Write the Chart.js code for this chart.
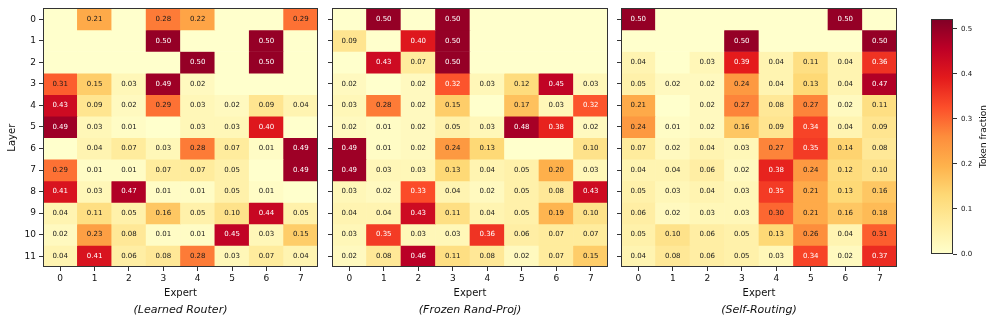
<!DOCTYPE html>
<html>
<head>
<meta charset="utf-8">
<script src="https://cdn.jsdelivr.net/npm/chart.js@4.4.1/dist/chart.umd.min.js"></script>
<style>
body{margin:0;background:#fff;}
#wrap{position:relative;width:997px;height:325px;overflow:hidden;}
canvas{position:absolute;top:0;}
</style>
</head>
<body>
<div id="wrap">
<canvas id="p1"></canvas>
<canvas id="p2"></canvas>
<canvas id="p3"></canvas>
<canvas id="cb"></canvas>
</div>
<script>
// data (0 = empty cell, no annotation)
const experts = ['0','1','2','3','4','5','6','7'];
const layers = [0,1,2,3,4,5,6,7,8,9,10,11];

const learnedRouter = [
  [0,.21,0,.28,.22,0,0,.29],
  [0,0,0,.50,0,0,.50,0],
  [0,0,0,0,.50,0,.50,0],
  [.31,.15,.03,.49,.02,0,0,0],
  [.43,.09,.02,.29,.03,.02,.09,.04],
  [.49,.03,.01,0,.03,.03,.40,0],
  [0,.04,.07,.03,.28,.07,.01,.49],
  [.29,.01,.01,.07,.07,.05,0,.49],
  [.41,.03,.47,.01,.01,.05,.01,0],
  [.04,.11,.05,.16,.05,.10,.44,.05],
  [.02,.23,.08,.01,.01,.45,.03,.15],
  [.04,.41,.06,.08,.28,.03,.07,.04]
];
const frozenRandProj = [
  [0,.50,0,.50,0,0,0,0],
  [.09,0,.40,.50,0,0,0,0],
  [0,.43,.07,.50,0,0,0,0],
  [.02,0,.02,.32,.03,.12,.45,.03],
  [.03,.28,.02,.15,0,.17,.03,.32],
  [.02,.01,.02,.05,.03,.48,.38,.02],
  [.49,.01,.02,.24,.13,0,0,.10],
  [.49,.03,.03,.13,.04,.05,.20,.03],
  [.03,.02,.33,.04,.02,.05,.08,.43],
  [.04,.04,.43,.11,.04,.05,.19,.10],
  [.03,.35,.03,.03,.36,.06,.07,.07],
  [.02,.08,.46,.11,.08,.02,.07,.15]
];
const selfRouting = [
  [.50,0,0,0,0,0,.50,0],
  [0,0,0,.50,0,0,0,.50],
  [.04,0,.03,.39,.04,.11,.04,.36],
  [.05,.02,.02,.24,.04,.13,.04,.47],
  [.21,0,.02,.27,.08,.27,.02,.11],
  [.24,.01,.02,.16,.09,.34,.04,.09],
  [.07,.02,.04,.03,.27,.35,.14,.08],
  [.04,.04,.06,.02,.38,.24,.12,.10],
  [.05,.03,.04,.03,.35,.21,.13,.16],
  [.06,.02,.03,.03,.30,.21,.16,.18],
  [.05,.10,.06,.05,.13,.26,.04,.31],
  [.04,.08,.06,.05,.03,.34,.02,.37]
];
const panelTitles = ['(Learned Router)','(Frozen Rand-Proj)','(Self-Routing)'];
const cbarTicks = [0,0.1,0.2,0.3,0.4,0.5];
const vmax = 0.522;

Chart.defaults.font.family = '"DejaVu Sans", sans-serif';
Chart.defaults.color = '#111';

// YlOrRd
const ylOrRd = ['#ffffcc','#ffeda0','#fed976','#feb24c','#fd8d3c','#fc4e2a','#e31a1c','#bd0026','#800026'];
function hex2rgb(h){ return [1,3,5].map(i=>parseInt(h.substr(i,2),16)); }
function cmap(v){
  const n = ylOrRd.length-1;
  const t = Math.max(0,Math.min(1,v/vmax))*n;
  const i = Math.min(Math.floor(t),n-1), f = t-i;
  const a = hex2rgb(ylOrRd[i]), b = hex2rgb(ylOrRd[i+1]);
  return 'rgb('+a.map((c,k)=>Math.round(c+(b[k]-c)*f)).join(',')+')';
}

const frame = {
  id:'frame',
  afterDraw(chart){
    const a = chart.chartArea, ctx = chart.ctx;
    ctx.save();
    ctx.strokeStyle = '#333'; ctx.lineWidth = 1;
    ctx.strokeRect(Math.round(a.left)+0.5, Math.round(a.top)+0.5, Math.round(a.right-a.left)-1, Math.round(a.bottom-a.top)-1);
    ctx.restore();
  }
};

const cellText = values => ({
  id:'cellText',
  afterDatasetsDraw(chart){
    const {ctx, scales:{x, y}} = chart;
    ctx.save();
    ctx.font = '7px "DejaVu Sans"';
    ctx.textAlign = 'center'; ctx.textBaseline = 'middle';
    layers.forEach(r => experts.forEach((e, c) => {
      const v = values[r][c];
      if(!v) return;
      ctx.fillStyle = v > 0.315 ? '#fff' : '#1a1a1a';
      ctx.fillText(v.toFixed(2), x.getPixelForValue(c), y.getPixelForValue(r));
    }));
    ctx.restore();
  }
});

function makePanel(id, left, width, values, title, showLabels){
  const cv = document.getElementById(id);
  cv.width = 43 + width + 1; cv.height = 325;
  cv.style.left = (left - 43) + 'px';
  new Chart(cv, {
    type:'bar',
    data:{
      labels: experts,
      datasets: layers.map(r => ({
        data: experts.map(() => [r-0.5, r+0.5]),
        backgroundColor: values[r].map(cmap),
        borderWidth:0, barPercentage:1, categoryPercentage:1
      }))
    },
    options:{
      responsive:false, animation:false, devicePixelRatio:1,
      layout:{padding:{top:8, right:1, left:0, bottom:0}},
      plugins:{legend:{display:false}, tooltip:{enabled:false}},
      scales:{
        x:{
          type:'category', stacked:true, position:'bottom', weight:0,
          grid:{drawOnChartArea:false, offset:false, tickLength:4, tickColor:'#333'},
          border:{display:false},
          ticks:{font:{size:9}, padding:2, maxRotation:0},
          title:{display:true, text:'Expert', font:{size:10}, padding:{top:0, bottom:0}},
          afterFit: s => { s.height = 32; }
        },
        x2:{
          type:'category', position:'bottom', weight:1, labels: experts,
          grid:{display:false}, border:{display:false}, ticks:{display:false},
          title:{display:true, text:title, font:{size:11, style:'italic'}, padding:{top:0, bottom:8.4}},
          afterFit: s => { s.height = 26; }
        },
        y:{
          type:'linear', reverse:true, min:-0.5, max:11.5,
          afterBuildTicks: s => { s.ticks = layers.map(v => ({value:v})); },
          grid:{drawOnChartArea:false, tickLength:4, tickColor:'#333'},
          border:{display:false},
          ticks:{font:{size:9}, padding:3, callback: v => showLabels ? String(v) : ''},
          title:{display:showLabels, text:'Layer', font:{size:10}, padding:{top:6.5, bottom:0}},
          afterFit: s => { s.width = 43; }
        }
      }
    },
    plugins:[cellText(values), frame]
  });
}

makePanel('p1', 43, 275, learnedRouter, panelTitles[0], true);
makePanel('p2', 332, 276, frozenRandProj, panelTitles[1], false);
makePanel('p3', 621, 276, selfRouting, panelTitles[2], false);

// colorbar
const cbarLabel = {
  id:'cbarLabel',
  afterDraw(chart){
    const a = chart.chartArea, ctx = chart.ctx;
    ctx.save();
    ctx.translate(a.right + 31, (a.top + a.bottom)/2);
    ctx.rotate(-Math.PI/2);
    ctx.font = '9px "DejaVu Sans"'; ctx.fillStyle = '#111';
    ctx.textAlign = 'center'; ctx.textBaseline = 'middle';
    ctx.fillText('Token fraction', 0, 0);
    ctx.restore();
  }
};
const cb = document.getElementById('cb');
cb.width = 77; cb.height = 325; cb.style.left = '920px';
new Chart(cb, {
  type:'bar',
  data:{
    labels:[''],
    datasets:[{
      data:[[0, vmax]],
      backgroundColor: c => {
        const a = c.chart.chartArea;
        if(!a) return ylOrRd[0];
        const g = c.chart.ctx.createLinearGradient(0, a.bottom, 0, a.top);
        ylOrRd.forEach((col, i) => g.addColorStop(i/(ylOrRd.length-1), col));
        return g;
      },
      borderWidth:0, barPercentage:1, categoryPercentage:1
    }]
  },
  options:{
    responsive:false, animation:false, devicePixelRatio:1,
    layout:{padding:{left:11, top:19, bottom:71, right:0}},
    plugins:{legend:{display:false}, tooltip:{enabled:false}},
    scales:{
      x:{display:false},
      y:{
        position:'right', min:0, max:vmax,
        afterBuildTicks: s => { s.ticks = cbarTicks.map(v => ({value:v})); },
        grid:{drawOnChartArea:false, tickLength:4, tickColor:'#333'},
        border:{display:false},
        ticks:{font:{size:7}, padding:4, callback: v => v.toFixed(1)},
        afterFit: s => { s.width = 44; }
      }
    }
  },
  plugins:[frame, cbarLabel]
});
</script>
</body>
</html>
